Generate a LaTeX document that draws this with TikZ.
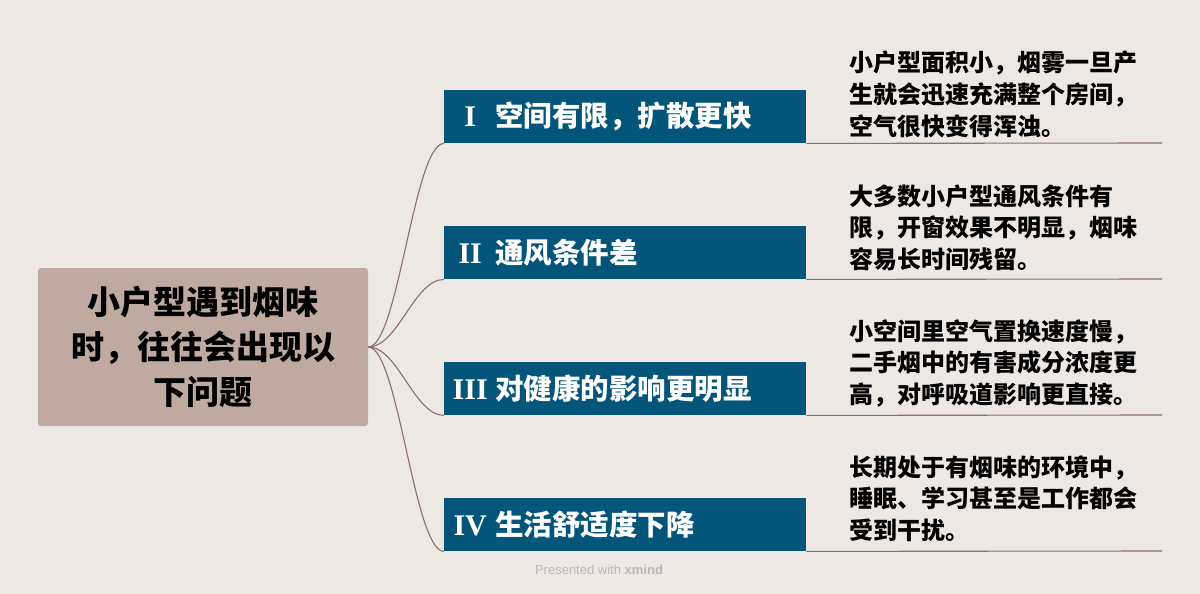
\documentclass[tikz,border=0pt]{standalone}
\usepackage{fontspec}
\setmainfont{Liberation Sans}
\newfontfamily\cjk{Noto Sans CJK SC}
\newfontfamily\romfont{Liberation Serif}[BoldFont={Liberation Serif Bold}]
\usetikzlibrary{positioning}

\definecolor{bgcol}{HTML}{EEE8E5}
\definecolor{rootcol}{HTML}{BFAAA2}
\definecolor{topiccol}{HTML}{03567A}
\definecolor{linecol}{HTML}{8E6E66}
\definecolor{markcol}{HTML}{BDB8B6}

\newcommand{\numeral}[1]{\makebox[30pt][c]{\romfont\bfseries\fontsize{30}{30}\selectfont #1}\hspace{10pt}}

\tikzset{
	roottopic/.style={fill=rootcol, rounded corners=3pt, minimum width=330pt, minimum height=158pt,
		inner sep=0pt, align=center, font=\cjk\bfseries\fontsize{33}{45}\selectfont},
	maintopic/.style={fill=topiccol, text=white, anchor=north west, text width=362pt, align=left,
		inner xsep=0pt, inner ysep=0pt, minimum height=53pt, font=\cjk\bfseries\fontsize{28.5}{30}\selectfont},
	detail/.style={anchor=base west, inner sep=0pt, text width=320pt, align=left,
		font=\cjk\bfseries\fontsize{24}{31.5}\selectfont},
	branchline/.style={draw=linecol, line width=1.1pt}
}

\begin{document}
\begin{tikzpicture}[x=1pt, y=-1pt]
	\fill[bgcol] (0,0) rectangle (1200,594); % background
	\useasboundingbox (0,0) rectangle (1200,594);
	
	\node[roottopic] (root) at (203,347) {小户型遇到烟味\\时，往往会出现以\\下问题};
	
	\node[maintopic] (t1) at (444,90) {\hspace{11pt}\numeral{I}空间有限，扩散更快};
	\node[maintopic] (t2) at (444,226) {\hspace{11pt}\numeral{II}通风条件差};
	\node[maintopic] (t3) at (444,362) {\hspace{11pt}\numeral{III}对健康的影响更明显};
	\node[maintopic] (t4) at (444,498) {\hspace{11pt}\numeral{IV}生活舒适度下降};
	
	\node[detail] (d1) at (849,72) {小户型面积小，烟雾一旦产\\生就会迅速充满整个房间，\\空气很快变得浑浊。};
	\node[detail] (d2) at (849,205) {大多数小户型通风条件有\\限，开窗效果不明显，烟味\\容易长时间残留。};
	\node[detail] (d3) at (849,340) {小空间里空气置换速度慢，\\二手烟中的有害成分浓度更\\高，对呼吸道影响更直接。};
	\node[detail] (d4) at (849,476) {长期处于有烟味的环境中，\\睡眠、学习甚至是工作都会\\受到干扰。};
	
	% underline ends
	\coordinate (u1) at (1162,143);
	\coordinate (u2) at (1162,279);
	\coordinate (u3) at (1162,415);
	\coordinate (u4) at (1162,551);
	
	\draw[branchline] (root.east) .. controls +(30,0) and +(-30,0) .. (t1.south west);
	\draw[branchline] (root.east) .. controls +(30,0) and +(-30,0) .. (t2.south west);
	\draw[branchline] (root.east) .. controls +(30,0) and +(-30,0) .. (t3.south west);
	\draw[branchline] (root.east) .. controls +(30,0) and +(-30,0) .. (t4.south west);
	
	\draw[branchline] (t1.south east) -- (u1);
	\draw[branchline] (t2.south east) -- (u2);
	\draw[branchline] (t3.south east) -- (u3);
	\draw[branchline] (t4.south east) -- (u4);
	
	\node[text=markcol, font=\fontsize{13}{13}\selectfont] (mark) at (599,570) {Presented with \textbf{xmind}};
\end{tikzpicture}
\end{document}
